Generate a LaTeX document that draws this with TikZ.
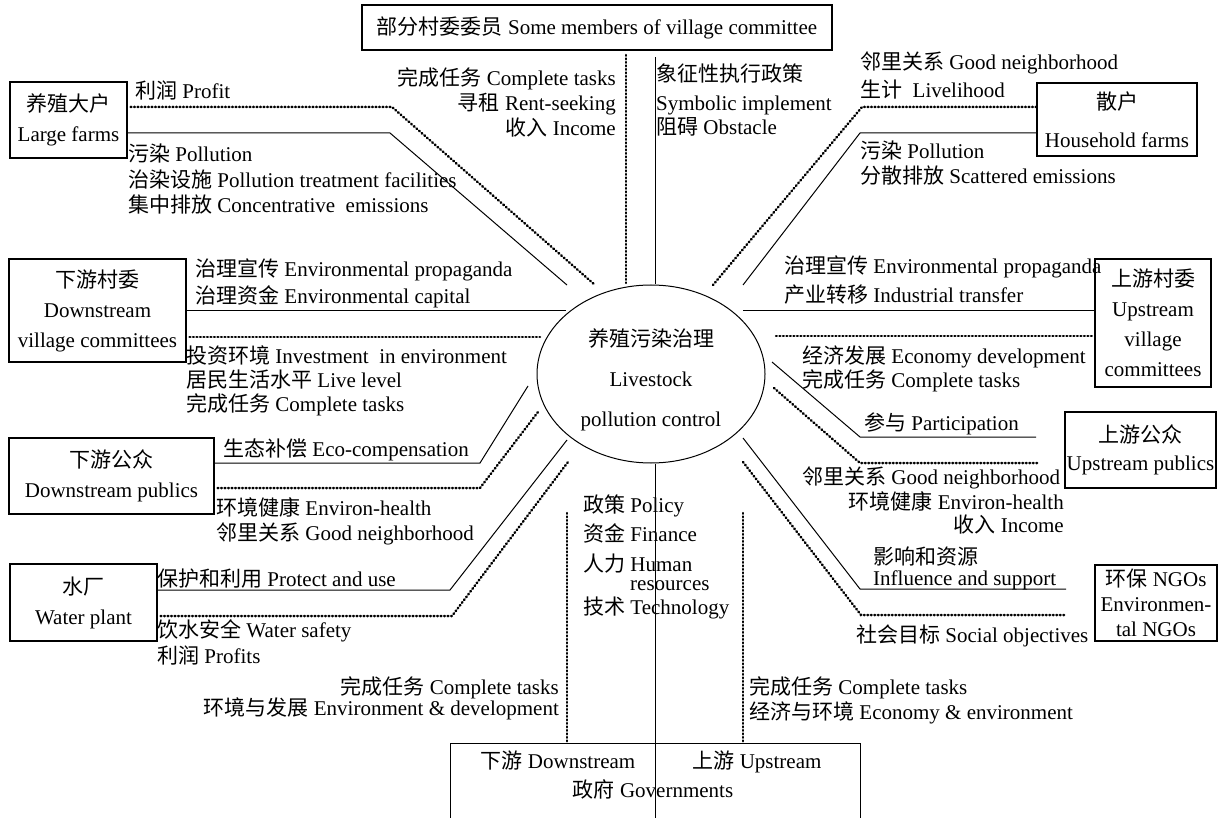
\documentclass[tikz,border=0pt]{standalone}
\usepackage{fontspec}
\setmainfont{Liberation Serif}
\newfontfamily\cjk{Noto Sans CJK SC}
\newcommand{\zh}[1]{{\cjk #1}}
\usetikzlibrary{shapes.geometric}

\begin{document}
\begin{tikzpicture}[x=1pt,y=-1pt,
  font=\fontsize{21}{30}\selectfont,
  box/.style={draw,line width=1.1pt,align=center,inner sep=1pt},
  lbl/.style={inner sep=0pt,text height=17pt,text depth=3pt},
  plainline/.style={line width=1pt},
  dotline/.style={line width=2.5pt,dash pattern=on 0.8pt off 2.7pt,line cap=round}]
\useasboundingbox (0,0) rectangle (1218,818);

% Centre
\node[draw,ellipse,line width=1pt,inner sep=0pt,minimum width=228pt,minimum height=178pt,
  align=center,font=\fontsize{21}{40}\selectfont] (core) at (651,374)
  {\rule{0pt}{29pt}\zh{养殖污染治理}\\Livestock\\pollution control};

% Actors
\node[box,minimum width=470pt,minimum height=45pt] (members) at (597,27.5) {\zh{部分村委委员} Some members of village committee};
\node[box,minimum width=117pt,minimum height=76pt] (large) at (68.5,120) {\zh{养殖大户}\\Large farms};
\node[box,minimum width=160pt,minimum height=73pt] (house) at (1117,119.5) {\zh{散户}\\[8pt]Household farms};
\node[box,minimum width=177pt,minimum height=103pt] (dvillage) at (97.5,310.5) {\zh{下游村委}\\Downstream\\village committees};
\node[box,minimum width=116pt,minimum height=128pt] (uvillage) at (1153,323) {\zh{上游村委}\\Upstream\\village\\committees};
\node[box,minimum width=205pt,minimum height=76pt] (dpublic) at (111.5,476) {\zh{下游公众}\\Downstream publics};
\node[box,minimum width=151pt,minimum height=76pt,font=\fontsize{21}{28}\selectfont] (upublic) at (1140.5,450) {\zh{上游公众}\\Upstream publics};
\node[box,minimum width=147pt,minimum height=77pt] (plant) at (83.5,602.5) {\zh{水厂}\\Water plant};
\node[box,minimum width=122pt,minimum height=76pt,font=\fontsize{21}{25}\selectfont] (ngo) at (1156,603) {\zh{环保} NGOs\\Environmen-\\tal NGOs};
\node[box,minimum width=410pt,minimum height=100pt,anchor=north west] (gov) at (450,743) {};
\node[lbl] (gdown) at (558,761) {\zh{下游} Downstream};
\node[lbl] (gup) at (757,761) {\zh{上游} Upstream};
\node[lbl] (gname) at (653,790) {\zh{政府} Governments};

% Ends near the centre
\coordinate (e1) at (595,285);
\coordinate (e2) at (567,285);
\coordinate (e3) at (713,285);
\coordinate (e4) at (743,285);
\coordinate (e5) at (566,311);
\coordinate (e6) at (540,337);
\coordinate (e7) at (743,311);
\coordinate (e8) at (776,336);
\coordinate (e9) at (772,362);
\coordinate (e10) at (774,388);
\coordinate (e11) at (743,438);
\coordinate (e12) at (743,462);
\coordinate (e13) at (528,386);
\coordinate (e14) at (538,412);
\coordinate (e15) at (567,440);
\coordinate (e16) at (568,462);
\coordinate (f1) at (1036,437);
\coordinate (f2) at (1037,463);
\coordinate (f3) at (1066,589);
\coordinate (f4) at (1066,615);
\coordinate (vtop) at (655,57);
\coordinate (dtop) at (626,55);
\coordinate (dleft) at (567,513);
\coordinate (dright) at (743,513);

% Links
\draw[dotline,shorten <=3pt] (large.east |- 0,107) -- (392,107) -- (e1);
\draw[plainline] (large.east |- 0,133) -- (390,133) -- (e2);
\draw[dotline] (house.west |- 0,107) -- (862,107) -- (e3);
\draw[plainline] (house.west |- 0,133) -- (860,133) -- (e4);
\draw[plainline] (dvillage.east |- e5) -- (e5);
\draw[dotline,shorten <=3pt] (dvillage.east |- e6) -- (e6);
\draw[plainline] (e7) -- (uvillage.west |- e7);
\draw[dotline] (e8) -- (uvillage.west |- e8);
\draw[plainline] (e9) -- (860,437) -- (f1);
\draw[dotline] (e10) -- (860,463) -- (f2);
\draw[plainline] (e11) -- (860,589) -- (f3);
\draw[dotline] (e12) -- (861,615) -- (f4);
\draw[plainline] (dpublic.east |- 0,463) -- (480,463) -- (e13);
\draw[dotline,shorten <=3pt] (dpublic.east |- 0,488) -- (480,488) -- (e14);
\draw[plainline] (plant.east |- 0,590) -- (450,590) -- (e15);
\draw[dotline,shorten <=3pt] (plant.east |- 0,616) -- (452,616) -- (e16);
\draw[plainline] (vtop) -- (vtop |- core.north);
\draw[dotline] (dtop) -- (626,283);
\draw[plainline] (core.south -| vtop) -- (vtop |- 0,818);
\draw[dotline] (dleft) -- (dleft |- gov.north);
\draw[dotline] (dright) -- (dright |- gov.north);

% Labels
\node[lbl,anchor=east] (m1) at (616,79) {\zh{完成任务} Complete tasks};
\node[lbl,anchor=east] (m2) at (616,104) {\zh{寻租} Rent-seeking};
\node[lbl,anchor=east] (m3) at (616,129) {\zh{收入} Income};
\node[lbl,anchor=west] (m4) at (656,75) {\zh{象征性执行政策}};
\node[lbl,anchor=west] (m5) at (656,104) {Symbolic implement};
\node[lbl,anchor=west] (m6) at (656,128) {\zh{阻碍} Obstacle};

\node[lbl,anchor=west] (lf1) at (135,92) {\zh{利润} Profit};
\node[lbl,anchor=west] (lf2) at (128,155) {\zh{污染} Pollution};
\node[lbl,anchor=west] (lf3) at (128,181) {\zh{治染设施} Pollution treatment facilities};
\node[lbl,anchor=west] (lf4) at (128,206) {\zh{集中排放} Concentrative\ \ emissions};

\node[lbl,anchor=west] (hf1) at (860,63) {\zh{邻里关系} Good neighborhood};
\node[lbl,anchor=west] (hf2) at (860,91) {\zh{生计}\ \ Livelihood};
\node[lbl,anchor=west] (hf3) at (860,152) {\zh{污染} Pollution};
\node[lbl,anchor=west] (hf4) at (860,177) {\zh{分散排放} Scattered emissions};

\node[lbl,anchor=west] (dv1) at (195,270) {\zh{治理宣传} Environmental propaganda};
\node[lbl,anchor=west] (dv2) at (195,297) {\zh{治理资金} Environmental capital};
\node[lbl,anchor=west] (dv3) at (186,356) {\zh{投资环境} Investment\ \ in environment};
\node[lbl,anchor=west] (dv4) at (186,380) {\zh{居民生活水平} Live level};
\node[lbl,anchor=west] (dv5) at (186,404) {\zh{完成任务} Complete tasks};

\node[lbl,anchor=west] (uv1) at (784,267) {\zh{治理宣传} Environmental propaganda};
\node[lbl,anchor=west] (uv2) at (784,296) {\zh{产业转移} Industrial transfer};
\node[lbl,anchor=west] (uv3) at (802,356) {\zh{经济发展} Economy development};
\node[lbl,anchor=west] (uv4) at (802,380) {\zh{完成任务} Complete tasks};

\node[lbl,anchor=west] (up1) at (864,423) {\zh{参与} Participation};
\node[lbl,anchor=west] (up2) at (802,477) {\zh{邻里关系} Good neighborhood};
\node[lbl,anchor=east] (up3) at (1064,502) {\zh{环境健康} Environ-health};
\node[lbl,anchor=east] (up4) at (1064,525) {\zh{收入} Income};

\node[lbl,anchor=west] (ng1) at (873,557) {\zh{影响和资源}};
\node[lbl,anchor=west] (ng2) at (873,578) {Influence and support};
\node[lbl,anchor=west] (ng3) at (856,635) {\zh{社会目标} Social objectives};

\node[lbl,anchor=west] (dp1) at (223,449) {\zh{生态补偿} Eco-compensation};
\node[lbl,anchor=west] (dp2) at (216,508) {\zh{环境健康} Environ-health};
\node[lbl,anchor=west] (dp3) at (216,533) {\zh{邻里关系} Good neighborhood};

\node[lbl,anchor=west] (wp1) at (157,579) {\zh{保护和利用} Protect and use};
\node[lbl,anchor=west] (wp2) at (157,630) {\zh{饮水安全} Water safety};
\node[lbl,anchor=west] (wp3) at (157,656) {\zh{利润} Profits};

\node[lbl,anchor=east] (gd1) at (559,687) {\zh{完成任务} Complete tasks};
\node[lbl,anchor=east] (gd2) at (559,708) {\zh{环境与发展} Environment \& development};
\node[lbl,anchor=west] (gu1) at (749,687) {\zh{完成任务} Complete tasks};
\node[lbl,anchor=west] (gu2) at (749,712) {\zh{经济与环境} Economy \& environment};

\node[lbl,anchor=west] (p1) at (583,505) {\zh{政策} Policy};
\node[lbl,anchor=west] (p2) at (583,534) {\zh{资金} Finance};
\node[lbl,anchor=west] (p3) at (583,564) {\zh{人力} Human};
\node[lbl,anchor=west] (p4) at (630,583) {resources};
\node[lbl,anchor=west] (p5) at (583,607) {\zh{技术} Technology};
\end{tikzpicture}
\end{document}
